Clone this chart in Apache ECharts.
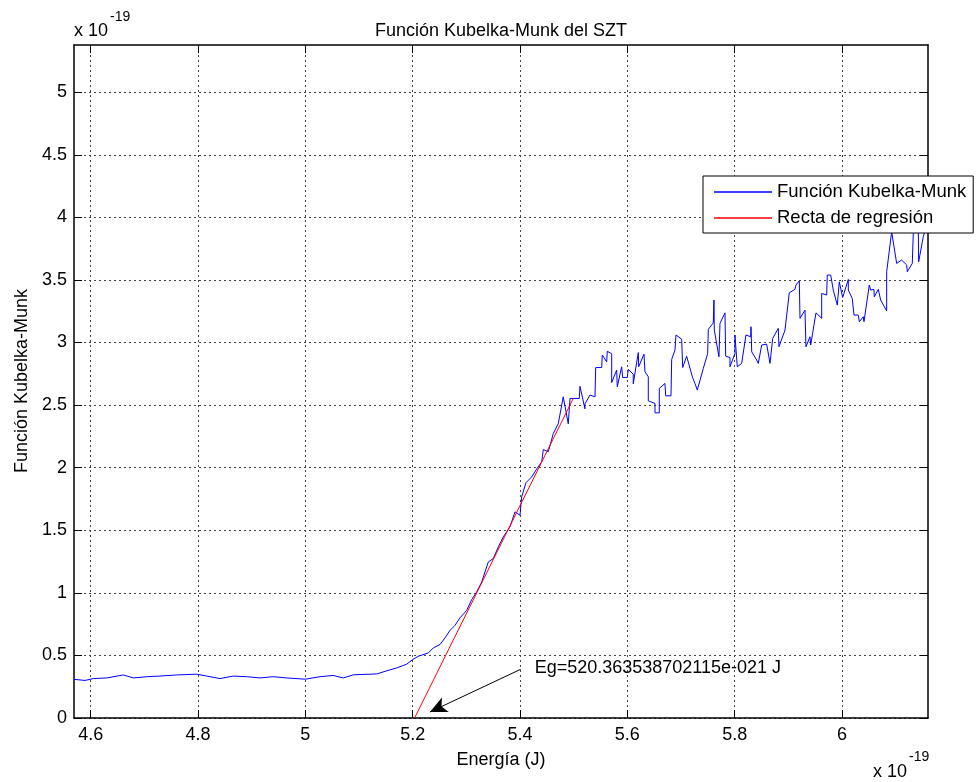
<!DOCTYPE html>
<html><head><meta charset="utf-8">
<script src="https://cdn.jsdelivr.net/npm/echarts@6/dist/echarts.min.js"></script>
<style>html,body{margin:0;padding:0;background:#fff}#c{width:976px;height:782px}</style>
</head><body><div id="c"></div>
<script>
// Energy in units of 1e-19 J
const energy = [
 4.5690,4.5895,4.6050,4.6300,4.6609,4.6795,4.7045,4.7292,4.7604,4.7976,
 4.8163,4.8410,4.8658,4.8908,4.9156,4.9403,4.9653,5.0000,5.0274,5.0521,
 5.0708,5.0894,5.1330,5.1541,5.1703,5.1889,5.2012,5.2105,5.2292,5.2385,
 5.2510,5.2603,5.2696,5.2789,5.2882,5.3007,5.3100,5.3194,5.3287,5.3410,
 5.3503,5.3596,5.3689,5.3814,5.3907,5.4000,5.4032,5.4112,5.4218,5.4312,
 5.4405,5.4435,5.4528,5.4621,5.4714,5.4807,5.4900,5.4932,5.5105,5.5118,
 5.5211,5.5211,5.5305,5.5398,5.5411,5.5523,5.5534,5.5616,5.5627,5.5709,
 5.5709,5.5802,5.5813,5.5895,5.5914,5.6000,5.6018,5.6111,5.6111,5.6205,
 5.6212,5.6311,5.6329,5.6391,5.6391,5.6516,5.6516,5.6596,5.6596,5.6702,
 5.6715,5.6814,5.6827,5.6888,5.6907,5.7013,5.7032,5.7106,5.7218,5.7261,
 5.7304,5.7416,5.7498,5.7509,5.7602,5.7615,5.7621,5.7708,5.7727,5.7820,
 5.7833,5.7913,5.7913,5.8006,5.8006,5.8049,5.8131,5.8211,5.8299,5.8305,
 5.8318,5.8411,5.8441,5.8504,5.8597,5.8659,5.8709,5.8813,5.8826,5.8938,
 5.9018,5.9124,5.9143,5.9205,5.9218,5.9311,5.9329,5.9404,5.9417,5.9516,
 5.9622,5.9622,5.9715,5.9726,5.9790,5.9838,5.9913,5.9950,6.0013,6.0118,
 6.0118,6.0192,6.0224,6.0304,6.0323,6.0397,6.0410,6.0509,6.0535,6.0596,
 6.0602,6.0677,6.0721,6.0833,6.0833,6.0926,6.1019,6.1112,6.1206,6.1217,
 6.1310,6.1329,6.1422,6.1429,6.1515,6.1603
];
// Kubelka-Munk function, units of 1e-19
const kubelka = [
 0.309,0.300,0.315,0.320,0.344,0.320,0.330,0.335,0.344,0.350,
 0.335,0.315,0.335,0.330,0.320,0.330,0.320,0.310,0.330,0.340,
 0.320,0.345,0.352,0.380,0.400,0.430,0.470,0.493,0.520,0.560,
 0.587,0.640,0.700,0.740,0.800,0.860,0.946,1.007,1.087,1.247,
 1.274,1.367,1.447,1.527,1.647,1.620,1.767,1.880,1.926,1.990,
 2.046,2.145,2.127,2.273,2.353,2.566,2.350,2.553,2.553,2.650,
 2.470,2.510,2.580,2.566,2.800,2.800,2.900,2.846,2.930,2.910,
 2.680,2.780,2.646,2.806,2.720,2.720,2.785,2.747,2.670,2.920,
 2.806,2.907,2.766,2.726,2.534,2.513,2.438,2.438,2.633,2.673,
 2.574,2.574,2.865,2.939,3.060,3.027,2.800,2.890,2.718,2.673,
 2.620,2.793,2.913,3.105,3.157,3.339,3.099,2.886,3.153,3.237,
 2.891,2.880,2.806,2.913,3.060,2.806,2.833,3.060,3.046,3.126,
 2.926,2.860,2.833,2.980,2.987,2.833,3.033,3.113,2.966,3.099,
 3.397,3.425,3.459,3.493,3.193,3.259,2.966,3.046,2.980,3.237,
 3.193,3.392,3.379,3.539,3.539,3.419,3.299,3.485,3.360,3.504,
 3.419,3.352,3.219,3.219,3.166,3.206,3.166,3.459,3.419,3.425,
 3.365,3.425,3.339,3.253,3.565,3.885,3.632,3.659,3.619,3.565,
 3.632,3.872,3.898,3.645,3.845,3.980
];
// Regression line endpoints
const regEnergy = [5.20363538702115, 5.4993];
const regValue = [0, 2.553];
// Annotation arrow (from text to intercept)
const arrowFrom = [5.4013, 0.389];
const arrowTo = [5.2323, 0.048];
const annotationText = 'Eg=520.363538702115e-021 J';
// Axes
const xTickValues = [4.6, 4.8, 5.0, 5.2, 5.4, 5.6, 5.8, 6.0];
const xTickLabels = ['4.6', '4.8', '5', '5.2', '5.4', '5.6', '5.8', '6'];
const yTickValues = [0, 0.5, 1, 1.5, 2, 2.5, 3, 3.5, 4, 4.5, 5];
const yTickLabels = ['0', '0.5', '1', '1.5', '2', '2.5', '3', '3.5', '4', '4.5', '5'];
const xRange = [4.569, 6.1603];
const yRange = [0, 5.377];
const seriesNames = ['Función Kubelka-Munk', 'Recta de regresión'];
const titleText = 'Función Kubelka-Munk del SZT';
const xName = 'Energía (J)';
const yName = 'Función Kubelka-Munk';

const font = "'Liberation Sans', Arial, Helvetica, sans-serif";
const FS = 18;
const chart = echarts.init(document.getElementById('c'), null, {renderer: 'canvas'});
const kmData = energy.map((e, i) => [e, kubelka[i]]);
const regData = regEnergy.map((e, i) => [e, regValue[i]]);
const lab = (vals, labs) => v => { const i = vals.findIndex(t => Math.abs(t - v) < 1e-9); return i >= 0 ? labs[i] : ''; };

function xAx(pos, showLabel) {
  return {
    type: 'value', min: xRange[0], max: xRange[1], position: pos, splitNumber: 8,
    axisLine: {show: true, onZero: false, lineStyle: {color: '#000', width: 1.5}},
    axisTick: {show: true, inside: true, length: 8, customValues: xTickValues, lineStyle: {color: '#000', width: 1}},
    axisLabel: {show: showLabel, customValues: xTickValues, formatter: lab(xTickValues, xTickLabels), margin: 8,
      color: '#000', fontFamily: font, fontSize: FS},
    splitLine: {show: showLabel, lineStyle: {color: '#444', type: [2, 3], width: 1}}
  };
}
function yAx(pos, showLabel) {
  return {
    type: 'value', min: yRange[0], max: yRange[1], position: pos, splitNumber: 11,
    axisLine: {show: true, onZero: false, lineStyle: {color: '#000', width: 1.5}},
    axisTick: {show: true, inside: true, length: 8, customValues: yTickValues, lineStyle: {color: '#000', width: 1}},
    axisLabel: {show: showLabel, customValues: yTickValues, formatter: lab(yTickValues, yTickLabels), margin: 7,
      color: '#000', fontFamily: font, fontSize: FS},
    splitLine: {show: showLabel, lineStyle: {color: '#444', type: [2, 3], width: 1}}
  };
}

chart.setOption({
  animation: false,
  backgroundColor: '#fff',
  grid: {left: 74, top: 45, right: 48, bottom: 64, containLabel: false},
  xAxis: [xAx('bottom', true), xAx('top', false)],
  yAxis: [yAx('left', true), yAx('right', false)],
  legend: {
    orient: 'vertical', left: 703, top: 176, padding: [6, 7, 5, 11], itemGap: 6,
    itemWidth: 58, itemHeight: 1.5, icon: 'rect',
    backgroundColor: '#fff', borderColor: '#000', borderWidth: 1, z: 10,
    textStyle: {fontFamily: font, fontSize: 18.5, color: '#000', lineHeight: 20},
    data: seriesNames
  },
  series: [
    {type: 'line', name: seriesNames[0], data: kmData, symbol: 'none', z: 2,
     lineStyle: {color: '#0000ff', width: 1}, itemStyle: {color: '#0000ff'}},
    {type: 'line', name: seriesNames[1], data: regData, symbol: 'none', z: 3,
     lineStyle: {color: '#ff0000', width: 1}, itemStyle: {color: '#ff0000'},
     markLine: {silent: true, symbol: ['none', 'arrow'], symbolSize: [12, 17], animation: false,
       lineStyle: {color: '#000', width: 1, type: 'solid'}, label: {show: false},
       data: [[{coord: arrowFrom}, {coord: arrowTo}]]}}
  ]
});

const p = chart.convertToPixel({xAxisIndex: 0, yAxisIndex: 0}, arrowFrom);
const tstyle = (t, extra) => Object.assign({text: t, fill: '#000', font: FS + 'px ' + font}, extra);
chart.setOption({
  graphic: [
    {type: 'text', x: 501, y: 31, style: tstyle(titleText, {textAlign: 'center', textVerticalAlign: 'middle'})},
    {type: 'text', x: 501, y: 760, style: tstyle(xName, {textAlign: 'center', textVerticalAlign: 'middle'})},
    {type: 'text', x: 22, y: 381, rotation: Math.PI / 2, style: tstyle(yName, {textAlign: 'center', textVerticalAlign: 'middle'})},
    {type: 'text', x: 74, y: 31, style: tstyle('x 10', {textAlign: 'left', textVerticalAlign: 'middle'})},
    {type: 'text', x: 110, y: 17, style: tstyle('-19', {textAlign: 'left', textVerticalAlign: 'middle', font: '14px ' + font})},
    {type: 'text', x: 873, y: 772, style: tstyle('x 10', {textAlign: 'left', textVerticalAlign: 'middle'})},
    {type: 'text', x: 909, y: 757, style: tstyle('-19', {textAlign: 'left', textVerticalAlign: 'middle', font: '14px ' + font})},
    {type: 'text', x: p[0] + 14, y: p[1] - 1, style: tstyle(annotationText, {textAlign: 'left', textVerticalAlign: 'middle'})}
  ]
});
</script></body></html>
